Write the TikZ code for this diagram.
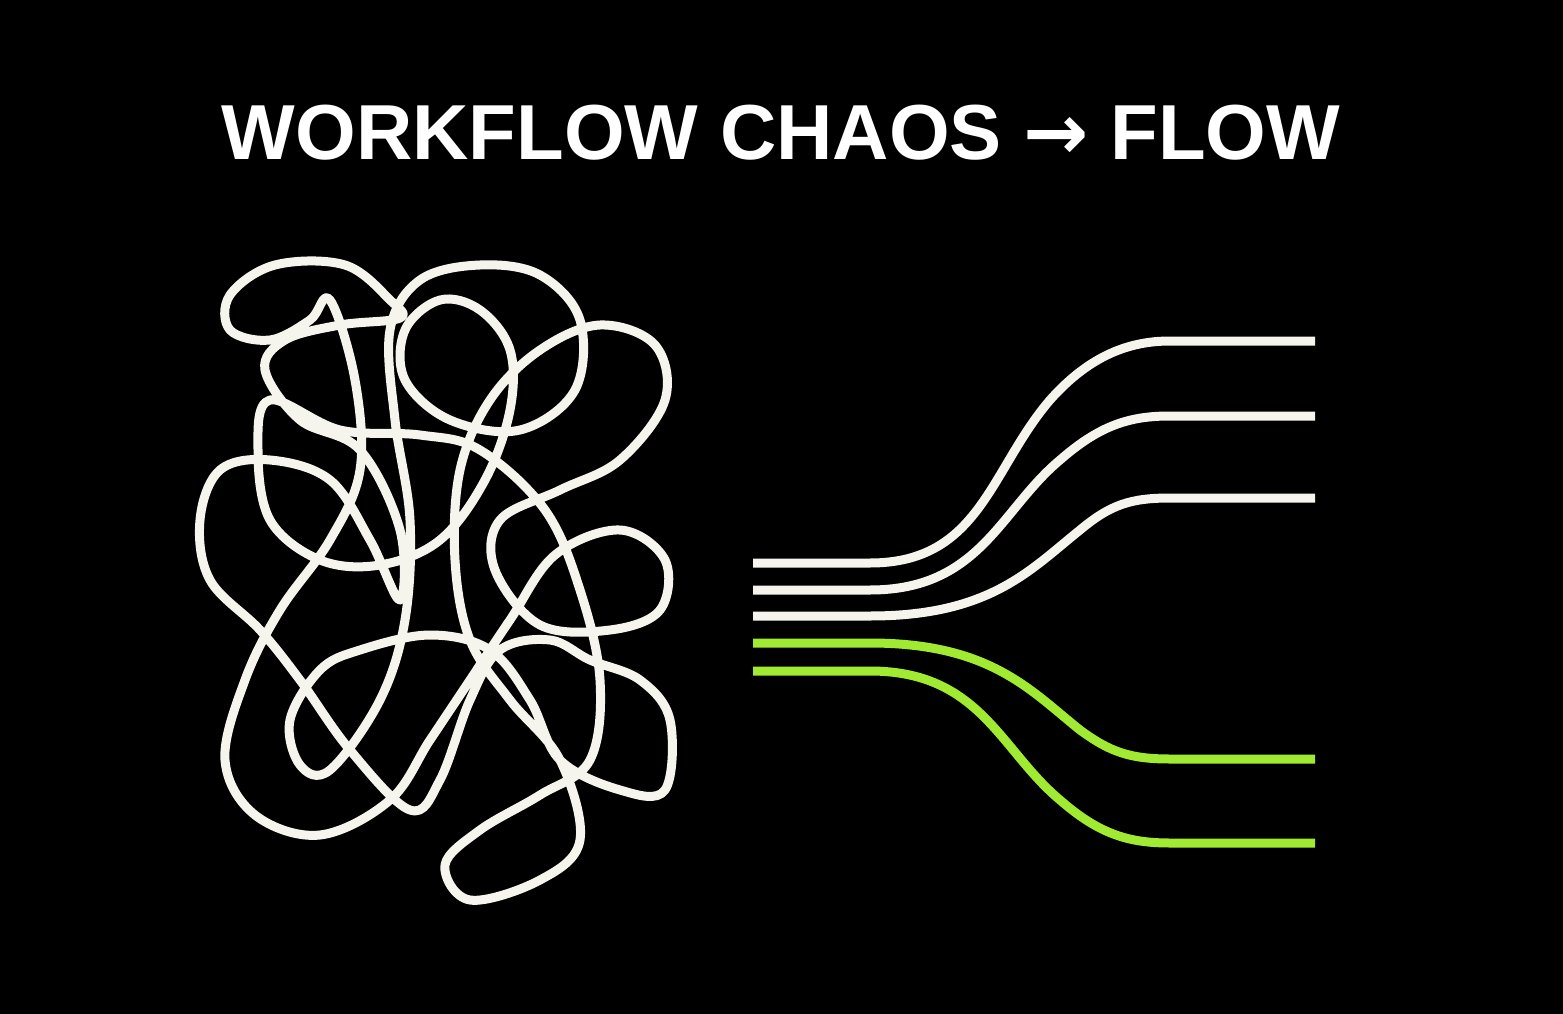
\documentclass[tikz,border=0pt]{standalone}
\usepackage{fontspec}
\setmainfont{Liberation Sans}
\newfontfamily\arrowfont{DejaVu Sans}
\begin{document}
\begin{tikzpicture}[x=1pt,y=-1pt,
  wline/.style={line width=9pt,draw={rgb,255:red,245;green,245;blue,238}},
  gline/.style={line width=9pt,draw={rgb,255:red,160;green,235;blue,50}}]
\fill[black] (0,0) rectangle (1563,1014);
\useasboundingbox (0,0) rectangle (1563,1014);
\node[white,font=\bfseries\fontsize{78}{84}\selectfont] (title) at (781,133) {WORKFLOW CHAOS {\arrowfont\bfseries →} FLOW};
% tangle
\draw[wline,line join=round] plot[smooth cycle,tension=0.6] coordinates {
 (330,300) (355,380) (360,470) (330,540) (280,610) (245,680) (225,760) (255,815) (320,835) (390,800) (430,740) (470,680) (510,620) (555,555) (620,530) (665,560) (660,610) (610,630) (540,625) (495,570) (500,520) (560,490) (620,460) (665,400) (655,345) (600,325) (540,350) (490,400) (460,470) (455,560) (470,640) (510,700) (560,760) (580,840) (540,880) (470,900) (445,865) (480,830) (540,795) (590,760) (600,680) (580,590) (545,510) (480,450) (420,435) (340,430) (270,400) (258,450) (270,520) (320,560) (380,565) (440,540) (485,480) (510,410) (510,350) (480,310) (440,300) (405,330) (405,380) (450,420) (520,430) (575,390) (580,320) (540,275) (480,265) (420,280) (390,330) (395,420) (410,520) (405,620) (380,700) (330,770) (300,765) (290,720) (320,670) (360,650) (430,635) (490,650) (530,700) (560,760) (620,790) (665,790) (670,720) (640,680) (590,660) (550,640) (500,650) (470,700) (440,780) (410,810) (350,750) (300,680) (260,630) (210,580) (200,520) (220,470) (270,460) (330,480) (370,540) (400,600) (400,530) (360,450) (300,420) (265,370) (285,340) (340,325) (400,318) (390,300) (345,265) (275,265) (230,295) (230,330) (270,340) (310,320)};
% flow lines
\coordinate (a1) at (753,563); \coordinate (b1) at (1315,341);
\coordinate (a2) at (753,590); \coordinate (b2) at (1315,416);
\coordinate (a3) at (753,616); \coordinate (b3) at (1315,498);
\coordinate (a4) at (753,643); \coordinate (b4) at (1315,759);
\coordinate (a5) at (753,671); \coordinate (b5) at (1315,843);
\draw[wline] (a1) -- (870,563) .. controls (980,563) and (990,470) .. (1050,400) .. controls (1090,355) and (1130,341) .. (1170,341) -- (b1);
\draw[wline] (a2) -- (870,590) .. controls (980,590) and (1000,510) .. (1060,460) .. controls (1100,425) and (1130,416) .. (1170,416) -- (b2);
\draw[wline] (a3) -- (870,616) .. controls (990,616) and (1030,570) .. (1080,530) .. controls (1110,505) and (1130,498) .. (1170,498) -- (b3);
\draw[gline] (a4) -- (870,643) .. controls (990,643) and (1030,690) .. (1080,730) .. controls (1110,752) and (1130,759) .. (1170,759) -- (b4);
\draw[gline] (a5) -- (870,671) .. controls (980,671) and (1000,750) .. (1060,800) .. controls (1100,835) and (1130,843) .. (1170,843) -- (b5);
\end{tikzpicture}
\end{document}
